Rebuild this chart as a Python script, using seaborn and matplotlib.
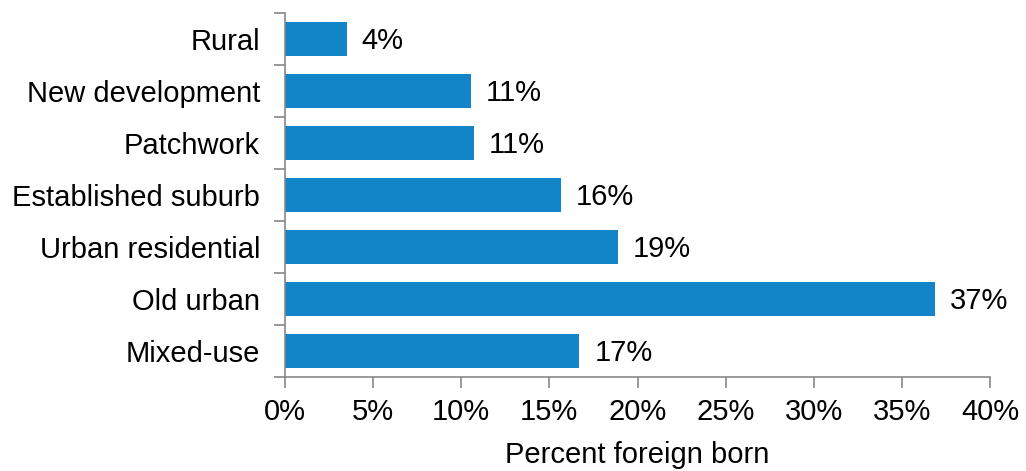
import matplotlib
matplotlib.use("Agg")
import matplotlib.pyplot as plt
import seaborn as sns
import pandas as pd
import numpy as np
from matplotlib.ticker import FixedLocator, PercentFormatter

categories = ["Rural", "New development", "Patchwork", "Established suburb",
              "Urban residential", "Old urban", "Mixed-use"]
values = [3.5, 10.55, 10.7, 15.65, 18.9, 36.9, 16.7]
labels = ["4%", "11%", "11%", "16%", "19%", "37%", "17%"]
xticks = [0, 5, 10, 15, 20, 25, 30, 35, 40]

sns.set_theme(style="white")
plt.rcParams['font.family'] = ['Liberation Sans', 'DejaVu Sans']

df = pd.DataFrame({"category": categories, "value": values})

fig = plt.figure(figsize=(10.26, 4.71), dpi=100)
ax = fig.add_axes([285/1026, 1 - 377/471, (990-285)/1026, (377-13)/471])

sns.barplot(data=df, x="value", y="category", orient="h", color="#1185C8",
            saturation=1, width=0.66, ax=ax, edgecolor="none")

FS = 21
for i, (v, lab) in enumerate(zip(values, labels)):
    ax.text(v + 0.85, i + 0.04, lab, va="center", ha="left", fontsize=FS, color="black")

ax.set_xlim(0, 40)
ax.set_ylim(6.5, -0.5)
ax.xaxis.set_major_locator(FixedLocator(xticks))
ax.xaxis.set_major_formatter(PercentFormatter(decimals=0))
ax.set_xlabel("Percent foreign born", fontsize=FS, labelpad=11, color="black")
ax.set_ylabel("")

ax.yaxis.set_minor_locator(FixedLocator(np.arange(-0.5, 7, 1)))
ax.tick_params(axis="y", which="major", length=0, labelsize=FS, pad=18, colors="black")
ax.tick_params(axis="y", which="minor", length=8, width=1.2, color="#888888", left=True)
ax.tick_params(axis="x", which="major", length=8, width=1.2, color="#888888",
               labelsize=FS, pad=7, bottom=True, labelcolor="black")

for s in ["top", "right"]:
    ax.spines[s].set_visible(False)
for s in ["left", "bottom"]:
    ax.spines[s].set_color("#888888")
    ax.spines[s].set_linewidth(1.2)

fig.savefig("out.png", dpi=100)
